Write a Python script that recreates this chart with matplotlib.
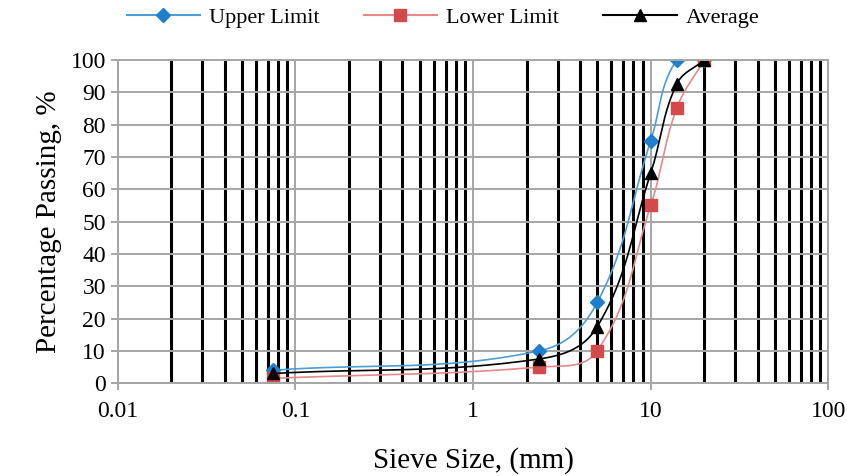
import numpy as np
import matplotlib.pyplot as plt
from matplotlib.ticker import LogLocator, FixedLocator, NullFormatter

# sieve sizes (mm) and percent passing
sieve = [0.075, 2.36, 5, 10, 14, 20]
upper = [4, 10, 25, 75, 100, 100]
lower = [1.5, 5, 10, 55, 85, 100]
average = [3, 7.5, 17.5, 65, 92.5, 100]


# smooth curve through the points (bezier, handles limited by segment length)
def smooth(xs, ys, n=50):
    u = (np.log10(xs) + 2) / 4 * 710.0
    v = np.array(ys, dtype=float) * 3.23
    pts = np.column_stack([u, v])
    m = len(pts)
    tang = []
    for i in range(m):
        d = pts[min(i + 1, m - 1)] - pts[max(i - 1, 0)]
        tang.append(d / np.linalg.norm(d))
    out = []
    for i in range(m - 1):
        p1, p2 = pts[i], pts[i + 1]
        L = np.linalg.norm(p2 - p1)
        c1 = p1 + tang[i] * L * 0.38
        c2 = p2 - tang[i + 1] * L * 0.38
        t = np.linspace(0, 1, n)[:, None]
        seg = (1 - t) ** 3 * p1 + 3 * (1 - t) ** 2 * t * c1 + 3 * (1 - t) * t ** 2 * c2 + t ** 3 * p2
        out.append(seg)
    out = np.vstack(out)
    return 10 ** (out[:, 0] / 710.0 * 4 - 2), out[:, 1] / 3.23


plt.rcParams['font.family'] = ['Liberation Serif', 'DejaVu Serif']

fig = plt.figure(figsize=(8.47, 4.76), dpi=100)
ax = fig.add_axes([0.139, 0.195, 0.839, 0.679])

ax.set_xscale('log')
ax.set_xlim(0.01, 100)
ax.set_ylim(0, 100)

ax.xaxis.set_major_locator(FixedLocator([0.01, 0.1, 1, 10, 100]))
ax.xaxis.set_minor_locator(LogLocator(base=10, subs=np.arange(2, 10), numticks=20))
ax.xaxis.set_minor_formatter(NullFormatter())
ax.set_xticklabels(['0.01', '0.1', '1', '10', '100'])
ax.set_yticks(np.arange(0, 101, 10))

ax.grid(True, which='major', color='#a6a6a6', linewidth=1.4)
ax.grid(True, which='minor', axis='x', color='black', linewidth=2.2)
ax.set_axisbelow(True)
for s in ax.spines.values():
    s.set_color('#a6a6a6')
    s.set_linewidth(1.4)

ax.tick_params(axis='both', which='major', direction='out', color='#a6a6a6',
               length=5, width=1.4, labelsize=17)
ax.tick_params(axis='x', which='major', pad=8)
ax.tick_params(axis='x', which='minor', length=0)

xs, ys = smooth(sieve, upper)
ax.plot(xs, ys, color='#4a9fd8', linewidth=1.2)
ax.plot(sieve, upper, linestyle='none', marker='D', markersize=7, color='#1f7fcf')
ax.plot([], [], color='#4a9fd8', marker='D', markersize=7, markerfacecolor='#1f7fcf',
        markeredgecolor='#1f7fcf', label='Upper Limit')

xs, ys = smooth(sieve, lower)
ax.plot(xs, ys, color='#e58a8a', linewidth=1.2)
ax.plot(sieve, lower, linestyle='none', marker='s', markersize=9, color='#d24b4b')
ax.plot([], [], color='#e58a8a', marker='s', markersize=9, markerfacecolor='#d24b4b',
        markeredgecolor='#d24b4b', label='Lower Limit')

xs, ys = smooth(sieve, average)
ax.plot(xs, ys, color='black', linewidth=1.2)
ax.plot(sieve, average, linestyle='none', marker='^', markersize=9, color='black')
ax.plot([], [], color='black', marker='^', markersize=9, label='Average')

ax.set_xlabel('Sieve Size, (mm)', fontsize=21, labelpad=18)
ax.set_ylabel('Percentage Passing, %', fontsize=21, labelpad=6)

fig.legend(loc='upper center', bbox_to_anchor=(0.523, 1.027), ncol=3, frameon=False,
           fontsize=16, handlelength=3.3, columnspacing=2.0, handletextpad=0.4)

fig.savefig('out.png', dpi=100)
